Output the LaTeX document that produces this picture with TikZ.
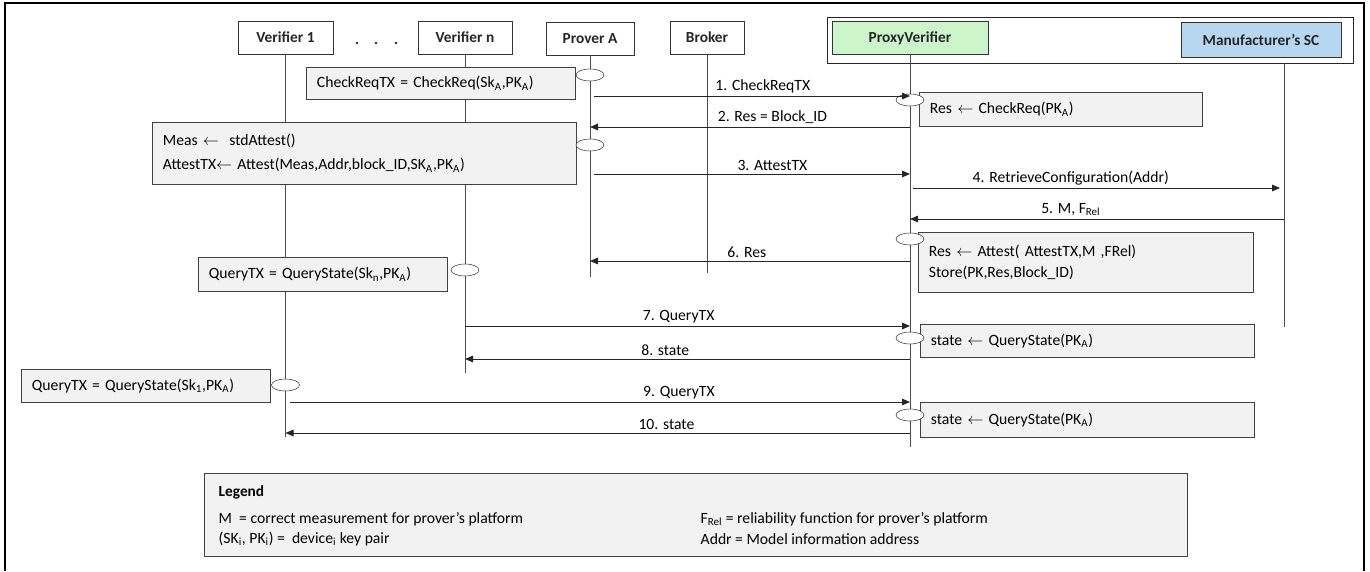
\documentclass[tikz,border=0pt]{standalone}
\usepackage{fontspec}
\setmainfont{Carlito}
\usetikzlibrary{arrows.meta,shapes.geometric}
\definecolor{pvgreen}{RGB}{204,245,204}
\definecolor{scblue}{RGB}{183,215,240}
\definecolor{notegray}{RGB}{242,242,242}
\newcommand{\sbs}[1]{\textsubscript{#1}}
\newcommand{\getsto}{$\leftarrow$}

\begin{document}
\begin{tikzpicture}[x=0.75pt, y=-0.75pt,
		font=\fontsize{11.75}{14}\selectfont,
		actor/.style={draw=black!80, fill=white, font=\fontsize{11.5}{14}\selectfont\bfseries, text=black!85, minimum height=24.75pt, inner sep=0pt},
		life/.style={draw=black!70, line width=0.7pt},
		act/.style={ellipse, draw=black!80, fill=white, minimum width=21pt, minimum height=9pt, inner sep=0pt},
		notebox/.style={draw=black!75, fill=notegray, anchor=north west, inner xsep=8pt, inner ysep=0pt, align=left, text width=#1},
		msg/.style={draw=black!85, line width=0.7pt, -{Triangle[length=6pt,width=5pt]}},
		lbl/.style={above, inner sep=2pt}]
		\useasboundingbox (0,0) rectangle (1370,571);
		\draw[black, line width=0.9pt] (5,571) -- (5,3) -- (1364,3) -- (1364,571);
		% participants
		\draw[black!85, line width=0.6pt] (827,17) rectangle (1353,63);
		\node[actor, minimum width=71.25pt] (v1) at (285.5,37.5) {Verifier 1};
		\node[actor, minimum width=70.5pt] (vn) at (465,37.5) {Verifier n};
		\node[actor, minimum width=66pt] (pa) at (590,38.5) {Prover A};
		\node[actor, minimum width=55.5pt] (br) at (707,37.5) {Broker};
		\node[actor, fill=pvgreen, minimum width=117pt] (pv) at (910,38) {ProxyVerifier};
		\node[actor, fill=scblue, minimum width=120pt, minimum height=26.25pt] (msc) at (1261,39.5) {Manufacturer’s SC};
		\foreach \x in {357,376,396}
			\fill[black!85] (\x,43) circle (1.1pt);
		% lifelines
		\coordinate (msctop) at (1284,63);
		\coordinate (v1end) at (285,437);
		\coordinate (vnend) at (465,373);
		\coordinate (paend) at (590,277);
		\coordinate (brend) at (707,273);
		\coordinate (pvend) at (910,447);
		\coordinate (mscend) at (1284,327);
		\draw[life] (v1.south) -- (v1.south |- v1end);
		\draw[life] (vn.south) -- (vn.south |- vnend);
		\draw[life] (pa.south) -- (pa.south |- paend);
		\draw[life] (br.south) -- (br.south |- brend);
		\draw[life] (pv.south) -- (pv.south |- pvend);
		\draw[life] (msctop) -- (mscend);
		% local computations
		\node[notebox=185.75pt, minimum height=24pt] (crq) at (306,67) {CheckReqTX = CheckReq(Sk\sbs{A},PK\sbs{A})};
		\node[notebox=302pt, minimum height=46.5pt, font=\fontsize{11.75}{18}\selectfont] (meas) at (152,122) {Meas \getsto\ \ stdAttest()\\AttestTX\getsto\ Attest(Meas,Addr,block\_ID,SK\sbs{A},PK\sbs{A})};
		\node[notebox=196.25pt, minimum height=25.5pt] (chk) at (919,92) {Res \getsto\ CheckReq(PK\sbs{A})};
		\node[notebox=235.25pt, minimum height=45pt, font=\fontsize{11.75}{16}\selectfont] (att) at (918,232) {Res \getsto\ Attest( AttestTX,M ,FRel)\\Store(PK,Res,Block\_ID)};
		\node[notebox=170.75pt, minimum height=25.5pt] (qn) at (198,257) {QueryTX = QueryState(Sk\sbs{n},PK\sbs{A})};
		\node[notebox=234.5pt, minimum height=24.75pt] (st1) at (920,324) {state \getsto\ QueryState(PK\sbs{A})};
		\node[notebox=170.75pt, minimum height=24.75pt] (q1) at (21,369) {QueryTX = QueryState(Sk\sbs{1},PK\sbs{A})};
		\node[notebox=234.5pt, minimum height=26.25pt] (st2) at (920,402) {state \getsto\ QueryState(PK\sbs{A})};
		% activations
		\node[act] (pa1) at (pa.south |- 0,75) {};
		\node[act] (pa2) at (pa.south |- 0,145) {};
		\node[act] (pv1) at (pv.south |- 0,100) {};
		\node[act] (pv2) at (pv.south |- 0,239) {};
		\node[act] (pv3) at (pv.south |- 0,338) {};
		\node[act] (pv4) at (pv.south |- 0,415) {};
		\node[act] (vn1) at (vn.south |- 0,270) {};
		\node[act] (v11) at (v1.south |- 0,385) {};
		% messages
		\coordinate (m1) at (0,96);
		\coordinate (m2) at (0,127);
		\coordinate (m3) at (0,174);
		\coordinate (m4) at (0,188);
		\coordinate (m5) at (0,219);
		\coordinate (m6) at (0,261);
		\coordinate (m7) at (0,326);
		\coordinate (m8) at (0,359);
		\coordinate (m9) at (0,402);
		\coordinate (m10) at (0,433);
		\draw[msg, shorten <=3pt] (pa.south |- m1) -- (pv.south |- m1) node[lbl, pos=0.54] {1. CheckReqTX};
		\draw[msg] (pv.south |- m2) -- (pa.south |- m2) node[lbl, pos=0.43] {2. Res = Block\_ID};
		\draw[msg, shorten <=3pt] (pa.south |- m3) -- (pv.south |- m3) node[lbl, pos=0.57] {3. AttestTX};
		\draw[msg, shorten <=2pt, shorten >=3pt] (pv.south |- m4) -- (msctop |- m4) node[lbl, pos=0.43] {4. RetrieveConfiguration(Addr)};
		\draw[msg] (msctop |- m5) -- (pv.south |- m5) node[lbl, pos=0.57] {5. M, F\sbs{Rel}};
		\draw[msg] (pv.south |- m6) -- (pa.south |- m6) node[lbl, pos=0.51] {6. Res};
		\draw[msg] (vn.south |- m7) -- (pv.south |- m7) node[lbl, pos=0.48] {7. QueryTX};
		\draw[msg] (pv.south |- m8) -- (vn.south |- m8) node[lbl, pos=0.55] {8. state};
		\draw[msg, shorten <=3pt] (v1.south |- m9) -- (pv.south |- m9) node[lbl, pos=0.63] {9. QueryTX};
		\draw[msg] (pv.south |- m10) -- (v1.south |- m10) node[lbl, pos=0.39] {10. state};
		% legend
		\node[draw=black!75, fill=notegray, anchor=north west, minimum width=737.25pt, minimum height=62.25pt] (leg) at (204,473) {};
		\node[anchor=west, font=\fontsize{11.5}{14}\selectfont\bfseries] (legt) at (214,492) {Legend};
		\node[anchor=west] (leg1) at (214,519) {M \ = correct measurement for prover’s platform};
		\node[anchor=west] (leg2) at (214,539) {(SK\sbs{i}, PK\sbs{i}) = \ device\sbs{i} key pair};
		\node[anchor=west] (leg3) at (696,519) {F\sbs{Rel} = reliability function for prover’s platform};
		\node[anchor=west] (leg4) at (696,539) {Addr = Model information address};
\end{tikzpicture}
\end{document}
